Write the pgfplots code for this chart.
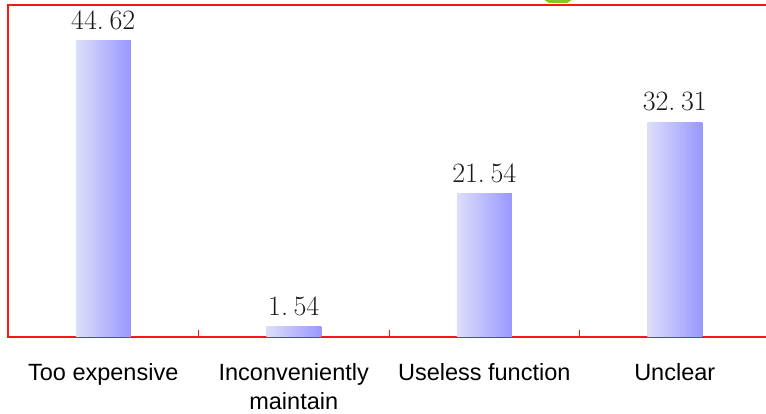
\documentclass[border=0pt]{standalone}
\usepackage{pgfplots}
\pgfplotsset{compat=1.18}
\usepackage{fontspec}
\newfontfamily\labelfont{Liberation Sans}

\definecolor{barL}{RGB}{222,222,250}
\definecolor{barR}{RGB}{152,152,255}
\definecolor{frameRed}{RGB}{255,20,20}
\definecolor{arrowGreen}{RGB}{140,196,40}

\begin{document}
\begin{tikzpicture}
\begin{axis}[
  at={(8pt,77pt)}, anchor=south west,
  scale only axis, width=762pt, height=332pt,
  xmin=-0.5, xmax=3.5, ymin=0, ymax=50,
  ybar, bar width=55pt, bar shift=0pt,
  axis line style={draw=frameRed, line width=1.6pt},
  ytick=\empty,
  xtick={0,1,2,3},
  xticklabels={Too expensive, Inconveniently\\maintain, Useless function, Unclear},
  major tick length=0pt,
  minor xtick={0.5,1.5,2.5},
  minor tick length=7pt,
  tick align=inside,
  xtick pos=bottom,
  minor tick style={draw=frameRed, line width=0.8pt},
  xticklabel style={align=center, anchor=north, inner sep=0pt, yshift=-26pt,
    font=\labelfont\fontsize{23.5}{29}\selectfont, text=black},
  point meta=y,
  nodes near coords={\pgfmathprintnumber[fixed, fixed zerofill, precision=2,
    assume math mode=true, dec sep={.\hspace{0.2em}}]{\pgfplotspointmeta}},
  every node near coord/.append style={anchor=south, inner sep=0pt, yshift=11pt,
    font=\fontsize{28}{32}\selectfont, text=black!90},
  bar style/.style={draw=none, left color=barL, right color=barR},
]
% one plot per bar so that every bar carries its own gradient
\addplot[bar style] coordinates {(0,44.62)};
\addplot[bar style] coordinates {(1,1.54)};
\addplot[bar style] coordinates {(2,21.54)};
\addplot[bar style] coordinates {(3,32.31)};
\end{axis}
% tip of the green arrow peeking in above the frame
\fill[arrowGreen] (538pt,418pt) -- (578pt,418pt) -- (567pt,411pt) -- (549pt,411pt) -- cycle;
\pgfresetboundingbox
\useasboundingbox (0,0) rectangle (766pt,414pt);
\end{tikzpicture}
\end{document}
